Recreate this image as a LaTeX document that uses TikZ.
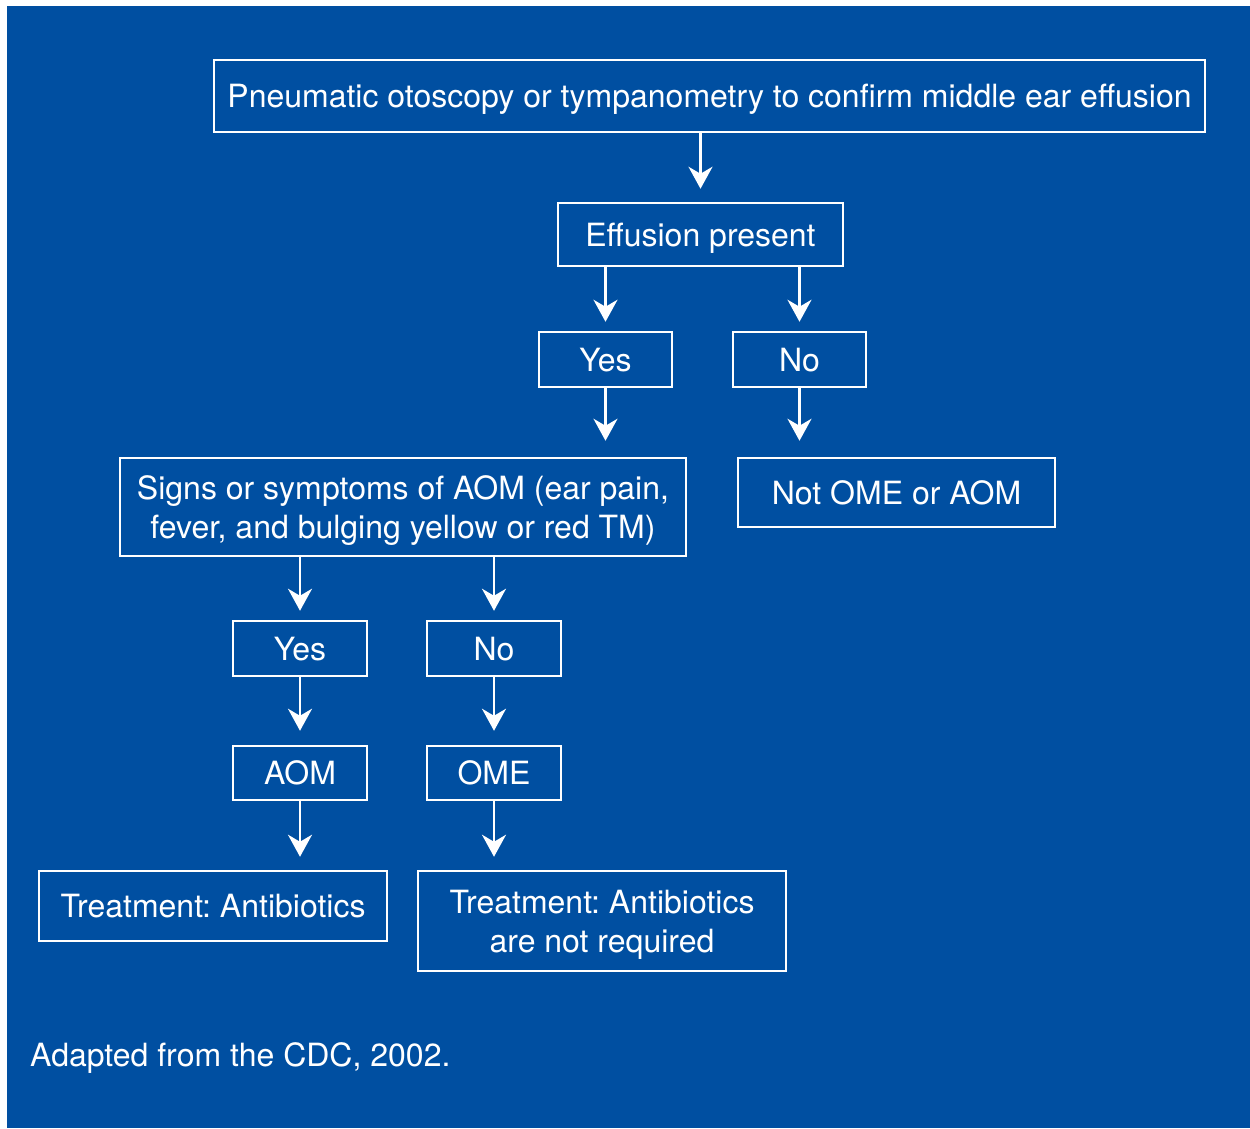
\documentclass[tikz,border=0pt]{standalone}
\usepackage{fontspec}
\setmainfont{TeX Gyre Heros}
\usetikzlibrary{arrows.meta}
\definecolor{bgblue}{RGB}{0,79,161}
\frenchspacing
\begin{document}
\begin{tikzpicture}[x=1pt,y=-1pt,
  box/.style={draw=white, line width=2.5pt, inner sep=0pt, text=white, align=center,
    text depth=0pt, font=\fontsize{32}{39}\selectfont},
  arr/.style={draw=white, line width=2.5pt, -{Stealth[length=22pt,width=24pt,inset=7pt]}}]
\useasboundingbox (0,0) rectangle (1250,1128);
\fill[white] (0,0) rectangle (1250,1128);
\fill[bgblue] (7,6) rectangle (1250,1128);

\node[box, minimum width=991pt, minimum height=72pt] (b1) at (709.5,96) {Pneumatic otoscopy or tympanometry to confirm middle ear effusion};
\node[box, minimum width=285pt, minimum height=63pt] (b2) at (700.5,234.5) {Effusion present};
\node[box, minimum width=133pt, minimum height=55pt] (yes1) at (605.5,359.5) {Yes};
\node[box, minimum width=133pt, minimum height=55pt] (no1) at (799.5,359.5) {No};
\node[box, minimum width=566pt, minimum height=98pt] (signs) at (403,507) {Signs or symptoms of AOM (ear pain,\\fever, and bulging yellow or red TM)};
\node[box, minimum width=317pt, minimum height=69pt] (notome) at (896.5,492.5) {Not OME or AOM};
\node[box, minimum width=134pt, minimum height=55pt] (yes2) at (300,648.5) {Yes};
\node[box, minimum width=134pt, minimum height=55pt] (no2) at (494,648.5) {No};
\node[box, minimum width=134pt, minimum height=54pt] (aom) at (300,773) {AOM};
\node[box, minimum width=134pt, minimum height=54pt] (ome) at (494,773) {OME};
\node[box, minimum width=348pt, minimum height=70pt] (t1) at (213,906) {Treatment: Antibiotics};
\node[box, minimum width=368pt, minimum height=100pt] (t2) at (602,921) {Treatment: Antibiotics\\are not required};
\node[text=white, inner sep=0pt, anchor=base west, font=\fontsize{32}{39}\selectfont] (cap) at (30,1066) {Adapted from the CDC, 2002.};

\draw[arr, shorten >=13pt] (b2.north |- b1.south) -- (b2.north);
\draw[arr, shorten >=9pt] (yes1.north |- b2.south) -- (yes1.north);
\draw[arr, shorten >=9pt] (no1.north |- b2.south) -- (no1.north);
\draw[arr, shorten >=16pt] (yes1.south) -- (yes1.south |- signs.north);
\draw[arr, shorten >=16pt] (no1.south) -- (no1.south |- notome.north);
\draw[arr, shorten >=9pt] (yes2.north |- signs.south) -- (yes2.north);
\draw[arr, shorten >=9pt] (no2.north |- signs.south) -- (no2.north);
\draw[arr, shorten >=14pt] (yes2.south) -- (aom.north);
\draw[arr, shorten >=14pt] (no2.south) -- (ome.north);
\draw[arr, shorten >=13pt] (aom.south) -- (aom.south |- t1.north);
\draw[arr, shorten >=13pt] (ome.south) -- (ome.south |- t2.north);
\end{tikzpicture}
\end{document}
